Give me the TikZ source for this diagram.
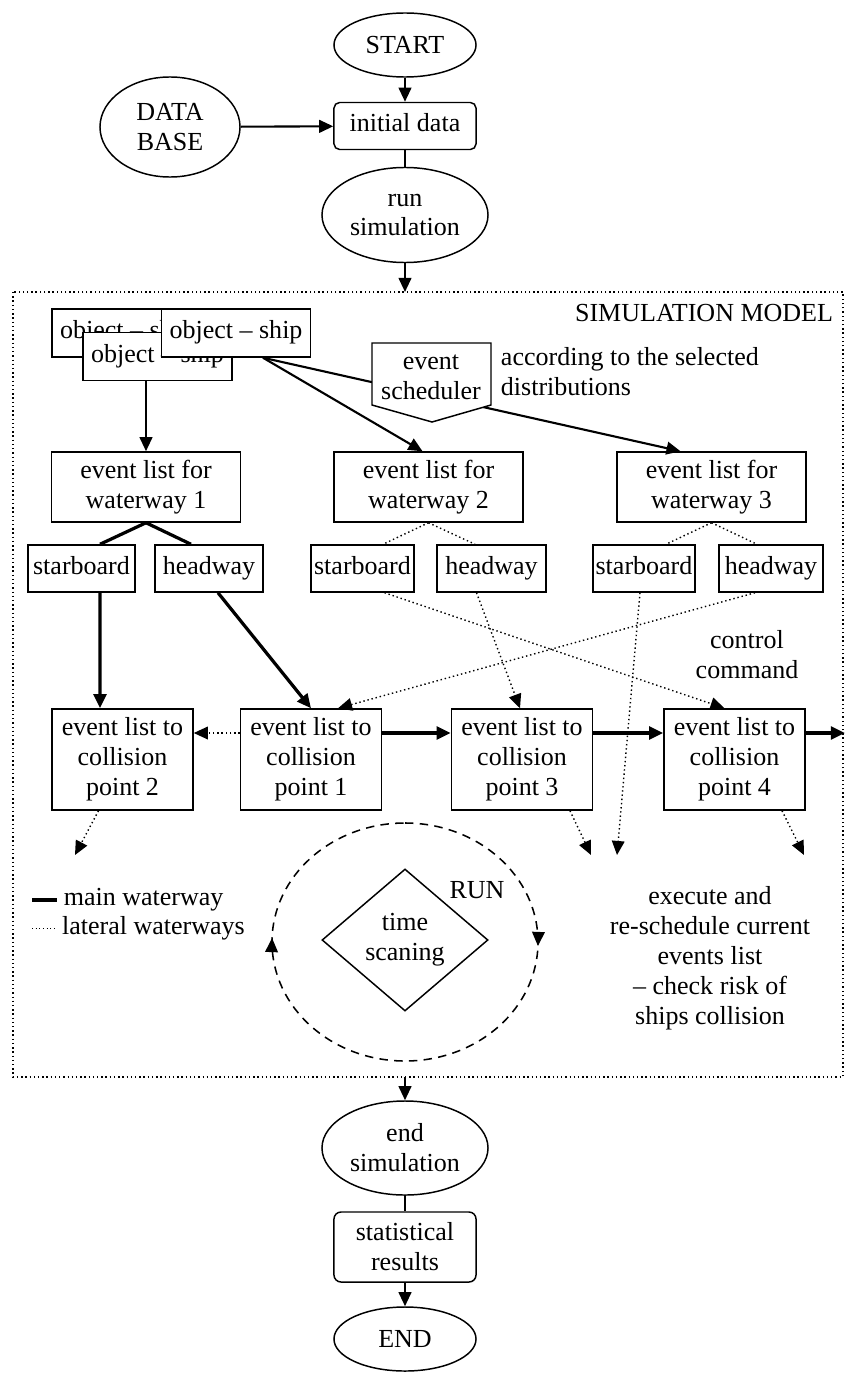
\documentclass[tikz,border=0pt]{standalone}
\usepackage{fontspec}
\setmainfont{Liberation Serif}
\usetikzlibrary{arrows.meta,shapes.geometric,decorations.markings,calc}

\begin{document}
\begin{tikzpicture}[x=0.025cm, y=-0.025cm, >={Triangle[length=10pt,width=9pt]},
  every node/.style={font=\fontsize{18.5}{21.3}\selectfont},
  box/.style={draw, fill=white, line width=1.05pt, inner sep=0pt, align=center},
  oneline/.style={text height=12.5pt, text depth=4pt},
  oval/.style={draw, ellipse, line width=1.05pt, inner sep=0pt, align=center},
  flow/.style={line width=1.5pt},
  main/.style={line width=2.3pt},
  lateral/.style={dotted, line width=1pt}]
  \useasboundingbox (0,0) rectangle (845,1373);
  % start of the run
  \node[oval, minimum width=3.55cm, minimum height=1.6cm] (start) at (405,45) {START};
  \node[oval, minimum width=3.5cm, minimum height=2.5cm] (db) at (170,127) {DATA\\BASE};
  \node[box, oneline, rounded corners=4pt, minimum width=3.55cm, minimum height=1.175cm] (init) at (405,126) {initial data};
  \node[oval, minimum width=4.15cm, minimum height=2.375cm] (run) at (405,215) {run\\simulation};
  \draw[flow,->] (start) -- (init);
  \draw[flow,->] (db) -- (init);
  \draw[flow] (init) -- (run);
  % simulation model frame
  \coordinate (mtop) at (405,292);
  \coordinate (mbot) at (405,1077);
  \draw[dotted, line width=1pt] (13,292) rectangle (843,1077);
  \draw[flow,->] (run) -- (mtop);
  \node[anchor=east] (simlabel) at (838,313) {SIMULATION MODEL};
  % ships
  \node[box, oneline, minimum width=3.725cm, minimum height=1.2cm] (shipA) at (126.5,333) {object -- ship};
  \node[box, oneline, minimum width=3.725cm, minimum height=1.2cm] (shipB) at (157.5,356.5) {object -- ship};
  \node[box, oneline, minimum width=3.725cm, minimum height=1.2cm] (shipC) at (236,333) {object -- ship};
  % event lists for waterways
  \node[box, minimum width=4.725cm, minimum height=1.75cm] (way1) at (146,487) {event list for\\waterway 1};
  \node[box, minimum width=4.725cm, minimum height=1.75cm] (way2) at (428.5,487) {event list for\\waterway 2};
  \node[box, minimum width=4.725cm, minimum height=1.75cm] (way3) at (711.5,487) {event list for\\waterway 3};
  \draw[flow,->] (shipB.south -| way1.north) -- (way1.north);
  \draw[flow,->] ($(shipC.south)+(27,0)$) -- ($(way2.north)+(-6,0)$);
  \draw[flow,->] ($(shipC.south)+(27,0)$) -- ($(way3.north)+(-31,0)$);
  % scheduler
  \filldraw[fill=white, line width=1.05pt] (372,343) -- (491,343) -- (491,405) -- (432,422) -- (372,405) -- cycle;
  \node[align=center] (sched) at (431,377) {event\\scheduler};
  \node[anchor=west, align=left] (distrib) at (496,372) {according to the selected\\distributions};
  % starboard and headway
  \node[box, oneline, minimum width=2.675cm, minimum height=1.175cm] (sb1) at (81.5,568.5) {starboard};
  \node[box, oneline, minimum width=2.7cm, minimum height=1.175cm] (hw1) at (209,568.5) {headway};
  \node[box, oneline, minimum width=2.575cm, minimum height=1.175cm] (sb2) at (362.5,568.5) {starboard};
  \node[box, oneline, minimum width=2.725cm, minimum height=1.175cm] (hw2) at (491.5,568.5) {headway};
  \node[box, oneline, minimum width=2.55cm, minimum height=1.175cm] (sb3) at (644,568.5) {starboard};
  \node[box, oneline, minimum width=2.6cm, minimum height=1.175cm] (hw3) at (771,568.5) {headway};
  \draw[main] (way1.south) -- ($(sb1.north)+(18.5,0)$);
  \draw[main] (way1.south) -- ($(hw1.north)+(-18,0)$);
  \draw[lateral] (way2.south) -- ($(sb2.north)+(20.5,0)$);
  \draw[lateral] (way2.south) -- ($(hw2.north)+(-16.5,0)$);
  \draw[lateral] (way3.south) -- ($(sb3.north)+(22,0)$);
  \draw[lateral] (way3.south) -- ($(hw3.north)+(-14,0)$);
  \node[align=center] (ctrl) at (747,655) {control\\command};
  % collision points
  \node[box, minimum width=3.525cm, minimum height=2.525cm] (cp2) at (122.5,759.5) {event list to\\collision\\point 2};
  \node[box, minimum width=3.525cm, minimum height=2.525cm] (cp1) at (311,759.5) {event list to\\collision\\point 1};
  \node[box, minimum width=3.525cm, minimum height=2.525cm] (cp3) at (522,759.5) {event list to\\collision\\point 3};
  \node[box, minimum width=3.525cm, minimum height=2.525cm] (cp4) at (734.5,759.5) {event list to\\collision\\point 4};
  \coordinate (sb3out) at (617,855);
  \coordinate (cp2out) at (75,855);
  \coordinate (cp3out) at (591,855);
  \coordinate (cp4out) at (804,855);
  \coordinate (cp4next) at (845,733);
  \draw[main,->] ($(sb1.south)+(18.5,0)$) -- ($(cp2.north)+(-22.5,0)$);
  \draw[main,->] ($(hw1.south)+(9,0)$) -- (cp1.north);
  \draw[lateral,->] ($(sb2.south)+(22,0)$) -- ($(cp4.north)+(-10,0)$);
  \draw[lateral,->] ($(hw2.south)+(-15,0)$) -- ($(cp3.north)+(-2,0)$);
  \draw[lateral,->] ($(hw3.south)+(-16,0)$) -- ($(cp1.north)+(27,0)$);
  \draw[lateral,->] ($(sb3.south)+(-4,0)$) -- (sb3out);
  \draw[lateral,->] ($(cp1.west)+(0,-26.5)$) -- ($(cp2.east)+(0,-26.5)$);
  \draw[main,->] ($(cp1.east)+(0,-26.5)$) -- ($(cp3.west)+(0,-26.5)$);
  \draw[main,->] ($(cp3.east)+(0,-26.5)$) -- ($(cp4.west)+(0,-26.5)$);
  \draw[main,->] ($(cp4.east)+(0,-26.5)$) -- (cp4next);
  \draw[lateral,->] ($(cp2.south)+(-24,0)$) -- (cp2out);
  \draw[lateral,->] ($(cp3.south)+(48,0)$) -- (cp3out);
  \draw[lateral,->] ($(cp4.south)+(47.5,0)$) -- (cp4out);
  % legend
  \draw[line width=3pt] (32,900) -- ++(25,0) node[right] (keymain) {main waterway};
  \draw[dotted, line width=0.6pt] (32,928) -- ++(25,0) node[right] (keylat) {lateral waterways};
  % time loop
  \node[draw, diamond, aspect=1.17, line width=1.05pt, minimum width=4.15cm, minimum height=3.55cm, inner sep=0pt, align=center] (scan) at (405,940) {time\\scaning};
  \draw[dash pattern=on 6pt off 4.5pt, line width=1.1pt, postaction={decorate},
    decoration={markings, mark=at position 0.255 with {\arrow{>}}, mark=at position 0.755 with {\arrow{>}}}]
    (405,823) arc[start angle=-90, end angle=270, x radius=133, y radius=119];
  \node (runlabel) at (477,890) {RUN};
  \node[align=center] (exec) at (710,958) {execute and\\re-schedule current\\events list\\-- check risk of\\ships collision};
  % end of the run
  \node[oval, minimum width=4.15cm, minimum height=2.35cm] (endsim) at (405,1148) {end\\simulation};
  \node[box, rounded corners=5pt, minimum width=3.55cm, minimum height=1.75cm] (stats) at (405,1247) {statistical\\results};
  \node[oval, minimum width=3.55cm, minimum height=1.6cm] (finish) at (405,1339) {END};
  \draw[flow,->] (mbot) -- (endsim);
  \draw[flow] (endsim) -- (stats);
  \draw[flow,->] (stats) -- (finish);
\end{tikzpicture}
\end{document}
